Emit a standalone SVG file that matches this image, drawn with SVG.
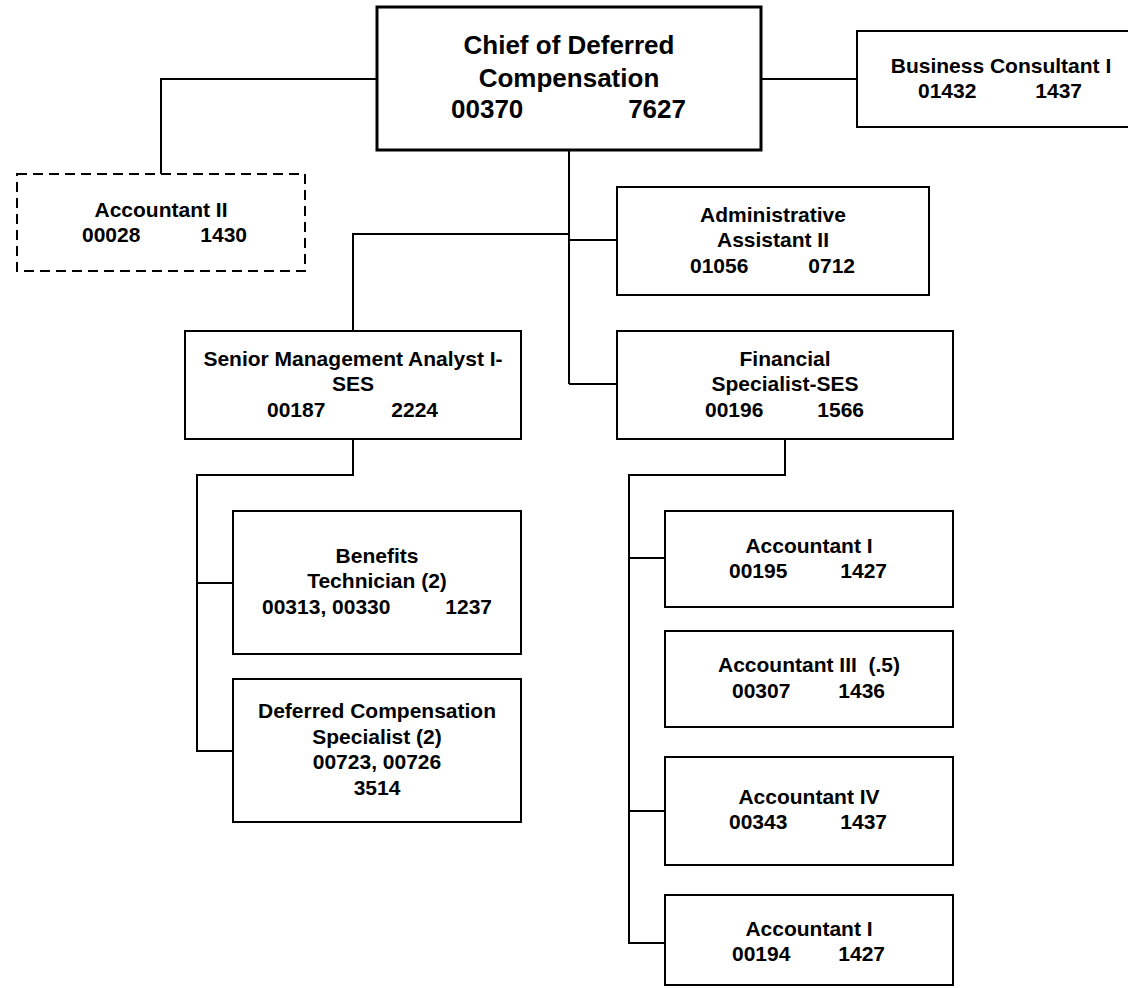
<svg xmlns="http://www.w3.org/2000/svg" width="1128" height="988" viewBox="0 0 1128 988">
  <style>
    .box { fill: #ffffff; stroke: #000000; stroke-width: 2; }
    .chief { stroke-width: 3; }
    .dashed { stroke-dasharray: 10 6; }
    .conn { fill: none; stroke: #000000; stroke-width: 2; }
    text { font-family: "Liberation Sans", Arial, sans-serif; font-weight: bold; font-size: 21px; fill: #000000; }
    .c { text-anchor: middle; }
    .s { text-anchor: start; }
    .e { text-anchor: end; }
    .big { font-size: 26px; }
  </style>

  <!-- reporting lines -->
  <g id="connectors">
    <polyline class="conn" points="377,79 161,79 161,174"/>
    <line class="conn" x1="761" y1="79" x2="857" y2="79"/>
    <line class="conn" x1="569" y1="150" x2="569" y2="384"/>
    <line class="conn" x1="569" y1="240" x2="617" y2="240"/>
    <polyline class="conn" points="569,234 353,234 353,331"/>
    <line class="conn" x1="569" y1="384" x2="617" y2="384"/>
    <polyline class="conn" points="353,439 353,475 197,475 197,751 233,751"/>
    <line class="conn" x1="197" y1="583" x2="233" y2="583"/>
    <polyline class="conn" points="785,439 785,475 629,475 629,943 665,943"/>
    <line class="conn" x1="629" y1="558" x2="665" y2="558"/>
    <line class="conn" x1="629" y1="811" x2="665" y2="811"/>
  </g>

  <g id="chief">
    <rect class="box chief" x="377" y="7" width="384" height="143"/>
    <text class="c big" x="569" y="54">Chief of Deferred</text>
    <text class="c big" x="569" y="87">Compensation</text>
    <text class="s big" x="451" y="118">00370</text>
    <text class="e big" x="686" y="118">7627</text>
  </g>

  <g id="business-consultant">
    <rect class="box" x="857" y="31" width="280" height="96"/>
    <text class="c" x="1001" y="73">Business Consultant I</text>
    <text class="s" x="918" y="98">01432</text>
    <text class="e" x="1082" y="98">1437</text>
  </g>

  <g id="accountant-ii">
    <rect class="box dashed" x="17" y="174" width="288" height="97"/>
    <text class="c" x="161" y="217">Accountant II</text>
    <text class="s" x="82" y="242">00028</text>
    <text class="e" x="247" y="242">1430</text>
  </g>

  <g id="admin-assistant">
    <rect class="box" x="617" y="187" width="312" height="108"/>
    <text class="c" x="773" y="222">Administrative</text>
    <text class="c" x="773" y="247">Assistant II</text>
    <text class="s" x="690" y="273">01056</text>
    <text class="e" x="855" y="273">0712</text>
  </g>

  <g id="senior-analyst">
    <rect class="box" x="185" y="331" width="336" height="108"/>
    <text class="c" x="353" y="366">Senior Management Analyst I-</text>
    <text class="c" x="353" y="391">SES</text>
    <text class="s" x="267" y="417">00187</text>
    <text class="e" x="438" y="417">2224</text>
  </g>

  <g id="financial-specialist">
    <rect class="box" x="617" y="331" width="336" height="108"/>
    <text class="c" x="785" y="366">Financial</text>
    <text class="c" x="785" y="391">Specialist-SES</text>
    <text class="s" x="705" y="417">00196</text>
    <text class="e" x="864" y="417">1566</text>
  </g>

  <g id="benefits-technician">
    <rect class="box" x="233" y="511" width="288" height="143"/>
    <text class="c" x="377" y="563">Benefits</text>
    <text class="c" x="377" y="588">Technician (2)</text>
    <text class="s" x="262" y="614">00313, 00330</text>
    <text class="e" x="492" y="614">1237</text>
  </g>

  <g id="deferred-comp-specialist">
    <rect class="box" x="233" y="679" width="288" height="143"/>
    <text class="c" x="377" y="718">Deferred Compensation</text>
    <text class="c" x="377" y="744">Specialist (2)</text>
    <text class="c" x="377" y="769">00723, 00726</text>
    <text class="c" x="377" y="795">3514</text>
  </g>

  <g id="accountant-i-a">
    <rect class="box" x="665" y="511" width="288" height="96"/>
    <text class="c" x="809" y="553">Accountant I</text>
    <text class="s" x="729" y="578">00195</text>
    <text class="e" x="887" y="578">1427</text>
  </g>

  <g id="accountant-iii">
    <rect class="box" x="665" y="631" width="288" height="96"/>
    <text class="c" x="809" y="672" xml:space="preserve">Accountant III  (.5)</text>
    <text class="s" x="732" y="698">00307</text>
    <text class="e" x="885" y="698">1436</text>
  </g>

  <g id="accountant-iv">
    <rect class="box" x="665" y="757" width="288" height="108"/>
    <text class="c" x="809" y="804">Accountant IV</text>
    <text class="s" x="729" y="829">00343</text>
    <text class="e" x="887" y="829">1437</text>
  </g>

  <g id="accountant-i-b">
    <rect class="box" x="665" y="895" width="288" height="90"/>
    <text class="c" x="809" y="936">Accountant I</text>
    <text class="s" x="732" y="961">00194</text>
    <text class="e" x="885" y="961">1427</text>
  </g>
</svg>
